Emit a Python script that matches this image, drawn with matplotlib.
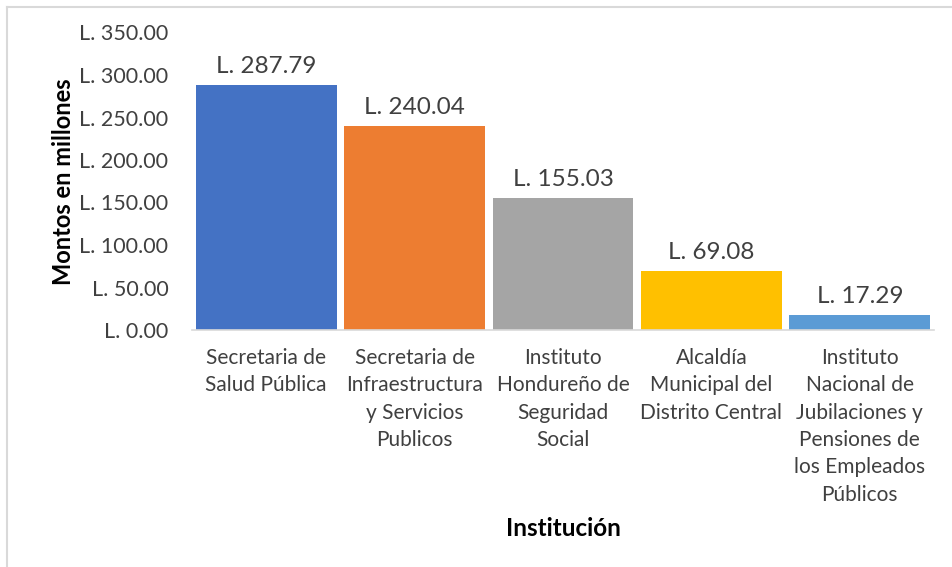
import matplotlib as mpl
from matplotlib import pyplot as plt
from matplotlib.lines import Line2D
from matplotlib.ticker import FuncFormatter

# data
categories = ['Secretaria de\nSalud Pública',
              'Secretaria de\nInfraestructura\ny Servicios\nPublicos',
              'Instituto\nHondureño de\nSeguridad\nSocial',
              'Alcaldía\nMunicipal del\nDistrito Central',
              'Instituto\nNacional de\nJubilaciones y\nPensiones de\nlos Empleados\nPúblicos']
montos = [287.79, 240.04, 155.03, 69.08, 17.29]
barColors = ['#4472C4', '#ED7D31', '#A5A5A5', '#FFC000', '#5B9BD5']
yTicks = [0, 50, 100, 150, 200, 250, 300, 350]

mpl.rc('font', **{'family': ['Lato', 'DejaVu Sans'], 'size': 15})

W, H = 953, 567
f = plt.figure(figsize=(W / 100.0, H / 100.0), dpi=100)
ax = f.add_axes([192.0 / W, 1 - 330.0 / H, 742.0 / W, 297.5 / H])

xPos = list(range(len(montos)))
ax.bar(xPos, montos, width=0.95, color=barColors, zorder=2)

for x, v in zip(xPos, montos):
    ax.annotate('L. %.2f' % v, xy=(x, v), xytext=(0, 6),
                textcoords='offset points', ha='center', va='bottom',
                fontsize=17.5, color='#404040')

ax.set_xlim(-0.5, len(montos) - 0.5)
ax.set_ylim(0, 350)
ax.set_yticks(yTicks)
ax.yaxis.set_major_formatter(FuncFormatter(lambda v, p: 'L. %.2f' % v))
ax.set_xticks(xPos)
ax.set_xticklabels(categories, linespacing=1.46, color='#404040', fontsize=15)

for s in ['top', 'right', 'left']:
    ax.spines[s].set_visible(False)
ax.spines['bottom'].set_color('#D9D9D9')
ax.spines['bottom'].set_linewidth(1.2)

ax.tick_params(axis='both', length=0, labelcolor='#404040')
ax.tick_params(axis='y', pad=17, labelsize=15.5)
ax.tick_params(axis='x', pad=13)

ax.set_ylabel('Montos en millones', fontsize=17, fontweight='bold', labelpad=3)
ax.set_xlabel('Institución', fontsize=17.5, fontweight='bold', labelpad=9)

# chart border (left and top visible)
f.add_artist(Line2D([7.0 / W, 7.0 / W], [0, 1 - 7.0 / H], color='#D9D9D9', lw=1.5))
f.add_artist(Line2D([7.0 / W, 1], [1 - 7.0 / H, 1 - 7.0 / H], color='#D9D9D9', lw=1.5))

f.savefig('out.png', dpi=100)
